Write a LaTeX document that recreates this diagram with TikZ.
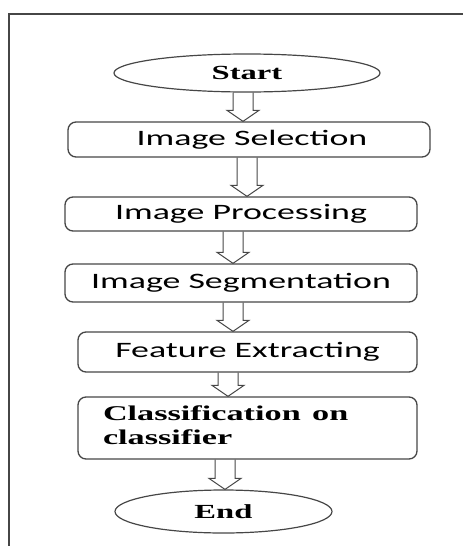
\documentclass[tikz,border=0pt]{standalone}
\usepackage{graphicx}
\usepackage{fontspec}
\setmainfont{Liberation Serif}
\newfontfamily\calfont{Carlito}
\usepackage{tikz}
\usetikzlibrary{shapes.geometric,calc}
\definecolor{lineg}{RGB}{70,70,70}
\newcommand{\wide}[1]{\scalebox{1.63}[1]{#1}}

\begin{document}
\begin{tikzpicture}[x=1pt, y=1pt,
  term/.style={ellipse, draw=lineg, line width=1.2pt, inner sep=0pt, font=\fontsize{20}{24}\selectfont\bfseries},
  box/.style={rectangle, rounded corners=8pt, draw=lineg, line width=1.3pt, inner sep=0pt, font=\calfont\fontsize{22}{26}\selectfont},
  hollow/.style={draw=lineg, line width=1pt, to path={let \p1=(\tikztostart), \p2=(\tikztotarget) in
    (#1-10,\y1) -- (#1-10,\y2+11) -- (#1-16,\y2+11) -- (#1,\y2) -- (#1+16,\y2+11) -- (#1+10,\y2+11) -- (#1+10,\y1)}}]
  \useasboundingbox (0,0) rectangle (463,-546);
  % outer frame
  \draw[line width=2pt, lineg] (463,-14) -- (9,-14) -- (9,-546);

  % steps
  \node[term, minimum width=266, minimum height=38] (start) at (247,-73) {\wide{Start}\hspace{21pt}};
  \node[box, minimum width=362, minimum height=35] (sel) at (249,-139.5) {\hspace{6pt}\wide{Image Selection}};
  \node[box, minimum width=352, minimum height=34] (proc) at (241,-214) {\wide{Image Processing}\hspace{20pt}};
  \node[box, minimum width=352, minimum height=38] (seg) at (241,-283) {\wide{Image Segmentation}};
  \node[box, minimum width=339, minimum height=40] (feat) at (247.5,-352) {\wide{Feature Extracting}\hspace{25pt}};
  \node[box, minimum width=339, minimum height=62, text width=289, inner xsep=25pt, align=left,
        font=\fontsize{21}{24}\selectfont\bfseries] (cls) at (247.5,-428)
        {\wide{\begin{tabular}{@{}l@{}}Classification on\\classifier\end{tabular}}};
  \node[term, minimum width=217, minimum height=43] (end) at (223.5,-511.5) {\wide{End}\hspace{19pt}};

  % hollow arrows
  \draw[hollow=243] (start.south) to (sel.north);
  \draw[hollow=247] (sel.south) to (proc.north);
  \draw[hollow=233] (proc.south) to (seg.north);
  \draw[hollow=233] (seg.south) to (feat.north);
  \draw[hollow=228] (feat.south) to (cls.north);
  \draw[hollow=225] (cls.south) to (end.north);
\end{tikzpicture}
\end{document}
